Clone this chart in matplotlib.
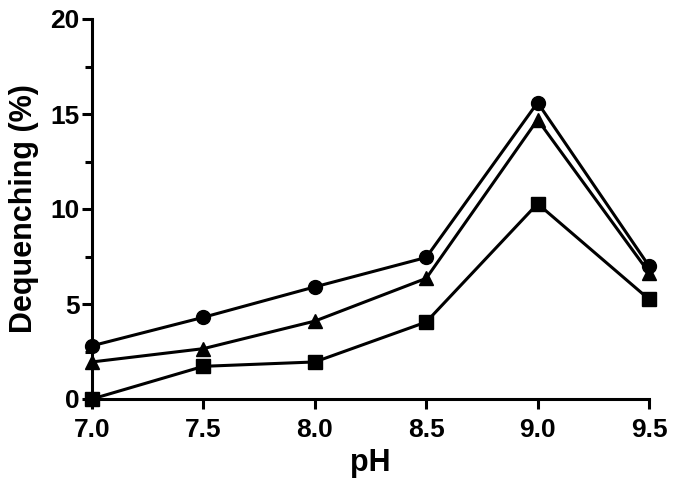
import matplotlib
matplotlib.use('Agg')
import matplotlib.pyplot as plt
from matplotlib.ticker import MultipleLocator

plt.rcParams['font.family'] = ['Liberation Sans', 'DejaVu Sans']
plt.rcParams['font.weight'] = 'bold'

# data
ph = [7.0, 7.5, 8.0, 8.5, 9.0, 9.5]
circles = [2.8, 4.3, 5.9, 7.45, 15.6, 7.0]
triangles = [1.95, 2.65, 4.1, 6.35, 14.7, 6.65]
squares = [0.0, 1.72, 1.95, 4.05, 10.28, 5.25]

fig = plt.figure(figsize=(6.75, 4.93), dpi=100)
ax = fig.add_axes([92 / 675, 1 - 399 / 493, (649 - 92) / 675, (399 - 19) / 493])

style = dict(color='black', linewidth=2.2, markersize=10, clip_on=False)
ax.plot(ph, squares, marker='s', **style)
ax.plot(ph, triangles, marker='^', **style)
ax.plot(ph, circles, marker='o', **style)

ax.set_xlim(7.0, 9.5)
ax.set_ylim(0, 20)
ax.xaxis.set_major_locator(MultipleLocator(0.5))
ax.yaxis.set_major_locator(MultipleLocator(5))
ax.yaxis.set_minor_locator(MultipleLocator(2.5))
ax.xaxis.set_major_formatter(plt.FormatStrFormatter('%.1f'))

for s in ['top', 'right']:
    ax.spines[s].set_visible(False)
for s in ['left', 'bottom']:
    ax.spines[s].set_linewidth(2.2)

ax.tick_params(which='major', length=7, width=2.2, labelsize=19, pad=2)
ax.tick_params(which='minor', length=5, width=2.2)
ax.tick_params(axis='x', pad=7)

ax.set_xlabel('pH', fontsize=22, fontweight='bold', labelpad=4)
ax.set_ylabel('Dequenching (%)', fontsize=22, fontweight='bold', labelpad=8)

fig.savefig('out.png', dpi=100)
